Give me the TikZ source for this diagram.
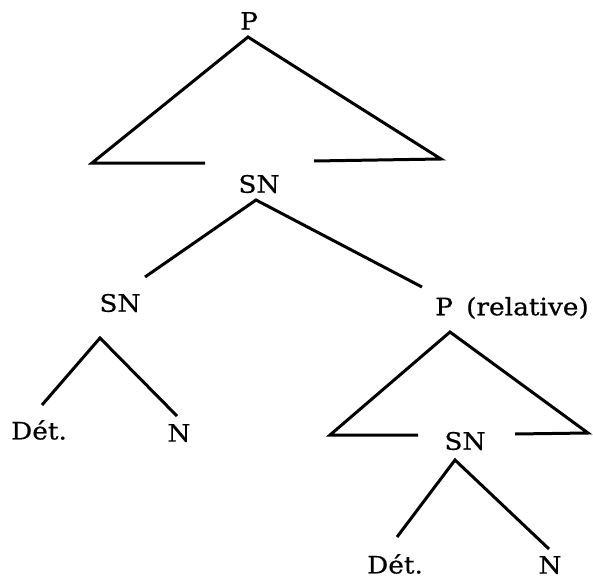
\documentclass[tikz,border=0pt]{standalone}
\usepackage{fontspec}
\setmainfont{DejaVu Serif}[FakeStretch=1.1,FakeBold=0.6]
\begin{document}
\begin{tikzpicture}[x=1pt,y=-1pt,
  lbl/.style={inner sep=0pt,font=\fontsize{24}{26}\selectfont},
  branch/.style={line width=3pt,line join=miter,line cap=butt}]
\useasboundingbox (0,0) rectangle (593,580);
% labels
\node[lbl] (P) at (249,21) {P};
\node[lbl] (SN1) at (259,184) {SN};
\node[lbl] (SN2) at (120,303) {SN};
\node[lbl] (PR) at (512,308) {P\hspace{0.55em}(relative)};
\node[lbl] (D1) at (39,430) {Dét.};
\node[lbl] (N1) at (179,433) {N};
\node[lbl] (SN3) at (465,441) {SN};
\node[lbl] (D2) at (395,564) {Dét.};
\node[lbl] (N2) at (550,565) {N};
% branch points
\coordinate (Pa) at (248,37);
\coordinate (PL) at (92,163);
\coordinate (PLe) at (205,163);
\coordinate (PR0) at (441,159);
\coordinate (PRe) at (314,161);
\coordinate (S1a) at (256,200);
\coordinate (S1l) at (145,277);
\coordinate (S1r) at (422,287);
\coordinate (S2a) at (100,338);
\coordinate (S2l) at (42,405);
\coordinate (S2r) at (177,416);
\coordinate (Ra) at (450,332);
\coordinate (RL) at (330,435);
\coordinate (RLe) at (418,435);
\coordinate (RR) at (588,433);
\coordinate (RRe) at (515,434);
\coordinate (S3a) at (455,460);
\coordinate (S3l) at (397,537);
\coordinate (S3r) at (549,549);
% connectors
\draw[branch] (PLe) -- (PL) -- (Pa) -- (PR0) -- (PRe);
\draw[branch] (S1l) -- (S1a) -- (S1r);
\draw[branch] (S2l) -- (S2a) -- (S2r);
\draw[branch] (RLe) -- (RL) -- (Ra) -- (RR) -- (RRe);
\draw[branch] (S3l) -- (S3a) -- (S3r);
\end{tikzpicture}
\end{document}
